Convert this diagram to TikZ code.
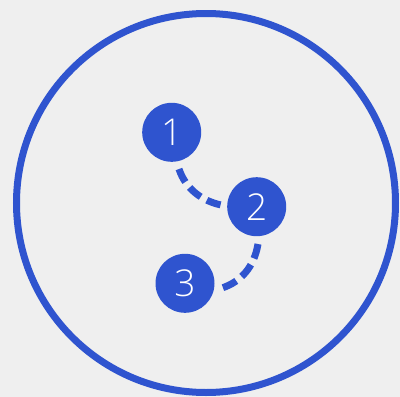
\documentclass[tikz,border=0pt]{standalone}
\usepackage{fontspec}
\setmainfont{Open Sans}
\newfontfamily\digitfont{Open Sans Light}
\definecolor{bg}{HTML}{EFEFEF}
\definecolor{blu}{HTML}{2F54CF}
\begin{document}
\begin{tikzpicture}[x=1pt,y=-1pt,
  stepnode/.style={circle,fill=blu,minimum size=59pt,inner sep=0pt,text=white,font=\digitfont\fontsize{37}{37}\selectfont},
  link/.style={draw=blu,line width=7pt}]
\fill[bg] (0,0) rectangle (400,397);
\useasboundingbox (0,0) rectangle (400,397);
\draw[blu,line width=7pt] (206,203) circle (189.5);
\node[stepnode] (n1) at (171.7,132.3) {1};
\node[stepnode] (n2) at (256.7,206.7) {2};
\node[stepnode] (n3) at (185,283.3) {3};
\coordinate (a1) at (179,169);
\coordinate (a2) at (221,205);
\coordinate (b1) at (258,244);
\coordinate (b2) at (222,288);
\path[link,dash pattern=on 14.5pt off 7pt] (a1) .. controls (186,190) and (203,201) .. (a2);
\path[link,dash pattern=on 15pt off 7pt] (b1) .. controls (254,268) and (240,282) .. (b2);
\end{tikzpicture}
\end{document}
